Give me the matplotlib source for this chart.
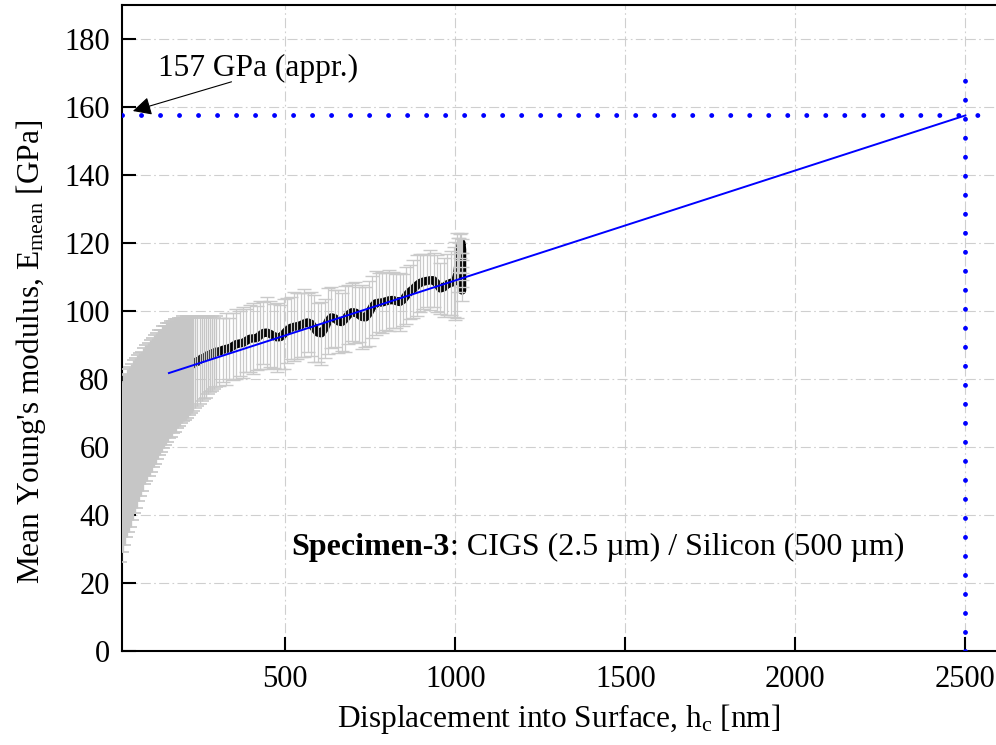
import matplotlib
matplotlib.use("Agg")
import matplotlib.pyplot as plt
from matplotlib.transforms import offset_copy

# ---------------- data ----------------
h_nm = [14, 20, 26, 32, 38, 44, 50, 56, 62, 68, 74, 80, 86, 92, 98, 104, 110, 116, 122, 128,
        134, 140, 146, 152, 158, 164, 170, 176, 182, 188, 194, 200, 206, 212, 218, 224, 230,
        236, 242, 248, 254, 260, 266, 272, 278, 284, 290, 296,
        306, 316, 326, 336, 346, 356, 366, 376, 386, 396, 406, 416, 426, 436, 446, 456, 466,
        476, 486, 496, 506, 516, 526, 536, 546, 556, 566, 576, 586, 596, 606, 616, 626, 636,
        646, 656, 666, 676, 686, 696, 706, 716, 726, 736, 746, 756, 766, 776, 786, 796, 806,
        816, 826, 836, 846, 856, 866, 876, 886, 896, 906, 916, 926, 936, 946, 956, 966, 976,
        986, 996, 1000, 1005, 1009, 1012, 1015, 1018, 1020, 1020, 1020, 1020]
E_mean = [52, 54, 56, 57.5, 59, 60, 61.5, 63, 64, 65.5, 66.5, 67.5, 69, 70, 71, 72, 73, 74, 75, 76,
          76.5, 77.5, 78, 79, 79.5, 80, 80.5, 81, 81.5, 82, 82.5, 83, 83, 83.5, 84, 84, 84.5,
          85, 85, 85.5, 86, 86, 86.5, 87, 87, 87.5, 87.5, 88,
          88.0, 88.5, 88.8, 89.0, 89.6, 90.2, 90.4, 90.6, 91.2, 91.8, 91.9, 92.0, 92.8, 93.5,
          93.6, 93.2, 92.6, 92.2, 92.3, 93.2, 94.3, 95.0, 95.3, 95.5, 95.8, 96.3, 96.6, 96.2,
          94.8, 93.6, 93.4, 94.8, 97.0, 98.1, 97.8, 96.9, 96.7, 97.6, 98.9, 99.6, 99.5, 98.9,
          98.2, 98.1, 99.3, 101.2, 102.2, 102.4, 102.5, 102.8, 103.1, 103.2, 102.9, 102.6,
          103.2, 104.5, 105.6, 106.4, 107.4, 108.2, 108.6, 108.8, 109.0, 109.0, 108.0, 106.6,
          106.9, 107.8, 108.2, 108.5, 108.8, 110.5, 113.5, 116.5, 119.0, 120.0, 118, 114, 110, 106]
E_err = [26, 25, 25, 24, 24, 23.5, 23, 22.5, 22, 21.5, 21, 20.5, 20, 20, 19.5, 19.5, 19, 19, 18.5, 18.5,
         18, 18, 17.5, 17.5, 17, 17, 16.5, 16.5, 16, 16, 15.5, 15.5, 15, 15, 14.5, 14, 14,
         13.5, 13, 13, 12.5, 12, 12, 11.5, 11, 11, 10.5, 10.5,
         10, 9.5, 10.5, 9, 9.8, 10.2, 9.5, 10.4, 9.2, 9.8, 10.5, 9.4, 10, 9.2, 10.6, 9.8, 9.3,
         10.1, 9.5, 10.4, 9.6, 9.2, 10.2, 9.8, 9.4, 10.0, 8.8, 9.4, 9.9, 8.6, 9.2, 8.8, 9.6, 9.0,
         8.4, 9.2, 8.6, 9.8, 8.7, 8.5, 9.0, 8.2, 9.4, 8.8, 9.6, 9.2, 9.4, 8.6, 8.9, 8.4, 9.0,
         8.2, 7.8, 8.6, 7.6, 8.3, 7.9, 8.5, 9.0, 8.4, 8.1, 7.6, 8.8, 7.9, 8.3, 7.6, 8.6,
         8.9, 9.4, 10.2, 11.5, 12.5, 8.0, 5.0, 3.5, 3.0, 3.0, 3.0, 3.0, 3.0]

n_shallow = 36   # shallowest points (h < 230 nm): bars drawn wider, they cover the mean curve
n_mid = 48       # points up to h = 296 nm: medium bar width

fit_h = [158, 2500]
fit_E = [81.7, 157.5]

E_ref = 157.5          # horizontal dotted reference level
h_ref = 2500           # vertical dotted reference depth
h_ref_top = 170

xticks = [500, 1000, 1500, 2000, 2500]
yticks = [0, 20, 40, 60, 80, 100, 120, 140, 160, 180]

# ---------------- style ----------------
plt.rcParams['font.family'] = ['Liberation Serif', 'DejaVu Serif']
plt.rcParams['mathtext.fontset'] = 'custom'
plt.rcParams['mathtext.rm'] = 'Liberation Serif'
plt.rcParams['mathtext.it'] = 'Liberation Serif:italic'
plt.rcParams['mathtext.bf'] = 'Liberation Serif:bold'

fig = plt.figure(figsize=(9.96, 7.45), dpi=100)
ax = fig.add_axes([122 / 996, 1 - 650.7 / 745, 874 / 996, (650.7 - 5) / 745])

grid_kw = dict(color='#cfcfcf', lw=0.8, linestyle=(0, (9, 3, 1.5, 3)))
ax.grid(True, **grid_kw)
ax.set_axisbelow(True)

# mean curve (thick black), error bars on top
ax.plot(h_nm, E_mean, color='black', lw=6.0, solid_capstyle='round',
        solid_joinstyle='round', zorder=2)
ax.errorbar(h_nm[:n_shallow], E_mean[:n_shallow], yerr=E_err[:n_shallow], fmt='none',
            ecolor='#c6c6c6', elinewidth=2.4, capsize=5, capthick=1.2, zorder=3)
ax.errorbar(h_nm[n_shallow:n_mid], E_mean[n_shallow:n_mid], yerr=E_err[n_shallow:n_mid],
            fmt='none', ecolor='#c6c6c6', elinewidth=1.0, capsize=5, capthick=1.1, zorder=3)
ax.errorbar(h_nm[n_mid:], E_mean[n_mid:], yerr=E_err[n_mid:], fmt='none',
            ecolor='#cacaca', elinewidth=0.9, capsize=5, capthick=1.0, zorder=3)

# linear fit
ax.plot(fit_h, fit_E, color='#0000ff', lw=1.4, zorder=4)

# dotted reference lines
dot_kw = dict(color='#0000ff', lw=3.5, linestyle=(0, (0.01, 3.9)),
              dash_capstyle='round', zorder=5)
ax.axhline(E_ref, **dot_kw)
ax.plot([h_ref, h_ref], [0, h_ref_top], **dot_kw)

# annotation
ax.annotate('', xy=(52, 158.8), xytext=(342, 167.4),
            arrowprops=dict(arrowstyle='-|>', color='black', lw=0.8,
                            mutation_scale=28, shrinkA=0, shrinkB=0), zorder=6)
ax.text(125, 169.2, '157 GPa (appr.)', fontsize=22.6, ha='left', va='baseline')

# specimen label (bold part + normal part)
t1 = ax.text(518, 28.3, 'Specimen-3', fontsize=23, fontweight='bold',
             ha='left', va='baseline')
fig.canvas.draw()
bb = t1.get_window_extent(renderer=fig.canvas.get_renderer())
w_pts = bb.width * 72.0 / fig.dpi
ax.text(518, 28.3, ': CIGS (2.5 \u00b5m) / Silicon (500 \u00b5m)', fontsize=23,
        ha='left', va='baseline',
        transform=offset_copy(ax.transData, fig=fig, x=w_pts, y=0, units='points'))

# axes
ax.set_xlim(20, 2590)
ax.set_ylim(0, 190)
ax.set_xticks(xticks)
ax.set_yticks(yticks)
ax.tick_params(direction='in', length=10, width=1.5, labelsize=22, pad=10)
ax.tick_params(axis='y', pad=9)
for s in ['left', 'bottom', 'top']:
    ax.spines[s].set_linewidth(1.5)
ax.spines['right'].set_visible(False)

ax.set_xlabel(r'Displacement into Surface, $\mathrm{h_c}$ [nm]', fontsize=22.6, labelpad=6)
ax.set_ylabel(r"Mean Young's modulus, $\mathrm{E_{mean}}$ [GPa]", fontsize=22.6)
ax.yaxis.set_label_coords(-0.085, 0.463)

fig.savefig('out.png', dpi=100)
